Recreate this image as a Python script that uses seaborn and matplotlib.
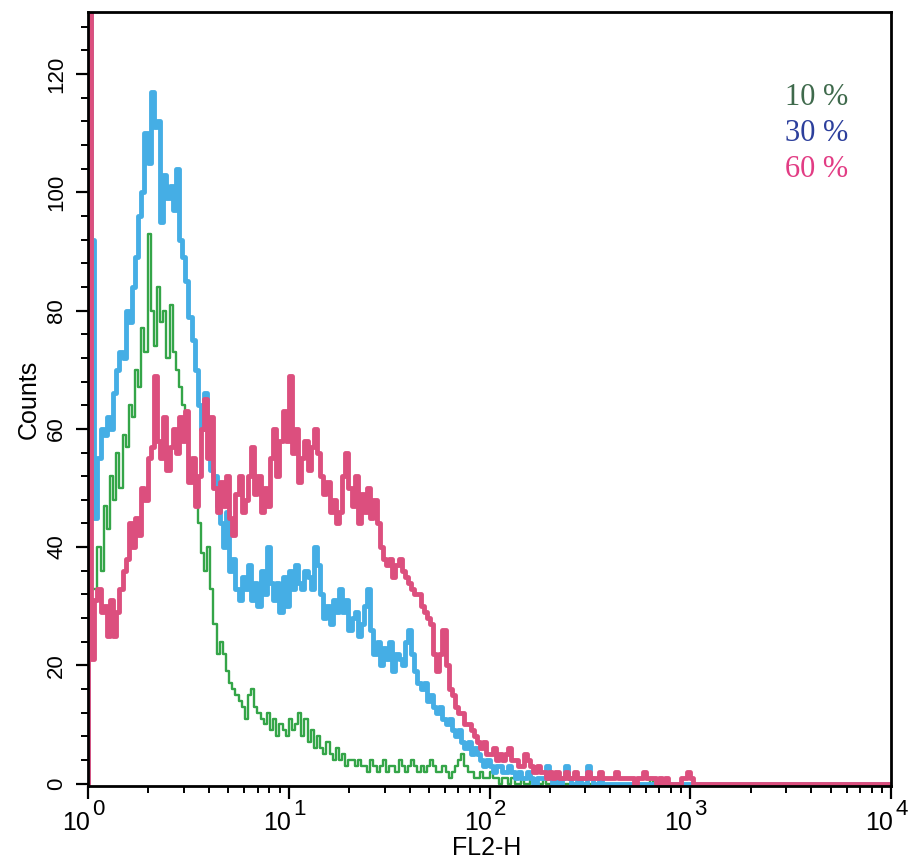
import numpy as np
import pandas as pd
import matplotlib
matplotlib.use("Agg")
import matplotlib.pyplot as plt
import matplotlib.transforms as mtransforms
from matplotlib.ticker import LogLocator, MultipleLocator, NullFormatter
import seaborn as sns

# channel counts (256 log channels across 4 decades, FL2-H)
series_names = ["10 %", "30 %", "60 %"]

counts_10 = [150, 33, 33, 40, 36, 47, 43, 52, 48, 56, 50, 59, 57, 64, 62, 70, 67, 77, 73, 93,
             80, 74, 84, 78, 80, 72, 81, 73, 70, 67, 64, 60, 55, 52, 47, 44, 39, 36, 40, 33,
             27, 22, 24, 22, 19, 17, 16, 15, 14, 13, 11, 15, 16, 13, 12, 11, 10, 12, 9, 11,
             8, 10, 9, 8, 11, 9, 10, 12, 8, 11, 7, 9, 6, 8, 6, 5, 7, 5, 4, 6,
             4, 5, 3, 4, 4, 3, 4, 3, 3, 2, 4, 3, 2, 3, 4, 2, 3, 3, 2, 4,
             3, 2, 3, 4, 3, 2, 3, 2, 3, 4, 3, 2, 2, 3, 2, 1, 2, 3, 4, 5,
             3, 2, 2, 1, 1, 2, 1, 1, 2, 1, 1, 0, 1, 1, 0, 1, 0, 0, 1, 0,
             0, 1, 0, 0, 0, 1, 0, 0, 0, 0, 0, 0, 0, 0, 0, 0, 0, 0, 0, 0,
             0, 0, 0, 0, 0, 0, 0, 0, 0, 0, 0, 0, 0, 0, 0, 0, 0, 0, 0, 1,
             0, 0, 0, 0, 0, 0, 0, 0, 0, 0, 0, 0, 0, 0, 0, 0, 0, 0, 0, 0,
             0, 0, 0, 0, 0, 0, 0, 0, 0, 0, 0, 0, 0, 0, 0, 0, 0, 0, 0, 0,
             0, 0, 0, 0, 0, 0, 0, 0, 0, 0, 0, 0, 0, 0, 0, 0, 0, 0, 0, 0,
             0, 0, 0, 0, 0, 0, 0, 0, 0, 0, 0, 0, 0, 0, 0, 0]

counts_30 = [300, 92, 45, 55, 60, 59, 62, 60, 66, 70, 73, 72, 80, 78, 84, 89, 96, 100, 110, 105,
             117, 111, 112, 95, 103, 99, 101, 97, 104, 92, 89, 85, 79, 75, 70, 64, 60, 66, 60, 53,
             52, 47, 44, 40, 46, 36, 38, 33, 31, 35, 33, 37, 31, 34, 30, 36, 32, 40, 34, 31,
             34, 29, 35, 30, 36, 33, 37, 34, 33, 36, 35, 33, 40, 37, 32, 28, 30, 27, 31, 29,
             33, 29, 31, 26, 28, 29, 25, 27, 30, 33, 26, 22, 24, 20, 23, 21, 24, 19, 22, 21,
             20, 24, 26, 22, 19, 17, 16, 17, 14, 15, 13, 12, 13, 11, 10, 11, 9, 8, 9, 7,
             6, 7, 5, 6, 5, 4, 3, 4, 3, 2, 3, 3, 2, 2, 3, 2, 1, 2, 1, 1,
             2, 1, 0, 1, 1, 1, 3, 1, 0, 1, 0, 1, 3, 1, 0, 0, 1, 0, 0, 3,
             1, 0, 0, 1, 0, 0, 0, 0, 0, 0, 0, 0, 0, 0, 0, 0, 0, 0, 0, 0,
             0, 0, 0, 0, 0, 0, 0, 0, 0, 0, 0, 0, 0, 0, 0, 0, 0, 0, 0, 0,
             0, 0, 0, 0, 0, 0, 0, 0, 0, 0, 0, 0, 0, 0, 0, 0, 0, 0, 0, 0,
             0, 0, 0, 0, 0, 0, 0, 0, 0, 0, 0, 0, 0, 0, 0, 0, 0, 0, 0, 0,
             0, 0, 0, 0, 0, 0, 0, 0, 0, 0, 0, 0, 0, 0, 0, 0]

counts_60 = [400, 21, 31, 33, 29, 30, 25, 31, 25, 29, 33, 36, 38, 44, 40, 45, 42, 50, 48, 55,
             57, 69, 58, 55, 62, 53, 57, 60, 56, 62, 58, 63, 51, 55, 47, 52, 60, 65, 55, 62,
             50, 46, 51, 47, 52, 45, 42, 49, 52, 46, 48, 52, 57, 49, 52, 46, 50, 47, 55, 60,
             52, 58, 63, 58, 69, 56, 60, 51, 55, 58, 53, 57, 60, 56, 52, 49, 51, 46, 48, 44,
             46, 52, 56, 50, 47, 52, 44, 49, 46, 50, 45, 48, 44, 40, 38, 37, 38, 35, 37, 38,
             36, 35, 34, 33, 32, 32, 30, 29, 28, 27, 22, 19, 22, 26, 20, 16, 15, 13, 12, 12,
             10, 10, 9, 8, 7, 6, 7, 5, 5, 6, 4, 5, 4, 5, 6, 4, 4, 3, 3, 5,
             4, 3, 2, 3, 2, 2, 1, 2, 1, 2, 1, 1, 2, 1, 1, 2, 1, 1, 1, 2,
             1, 1, 1, 2, 1, 1, 1, 1, 2, 1, 1, 1, 1, 1, 0, 1, 1, 2, 1, 1,
             1, 0, 1, 0, 1, 0, 0, 0, 0, 1, 1, 2, 1, 0, 0, 0, 0, 0, 0, 0,
             0, 0, 0, 0, 0, 0, 0, 0, 0, 0, 0, 0, 0, 0, 0, 0, 0, 0, 0, 0,
             0, 0, 0, 0, 0, 0, 0, 0, 0, 0, 0, 0, 0, 0, 0, 0, 0, 0, 0, 0,
             0, 0, 0, 0, 0, 0, 0, 0, 0, 0, 0, 0, 0, 0, 0, 0]

line_colors = {"10 %": "#34a548", "30 %": "#45aee5", "60 %": "#dc4f7e"}
text_colors = {"10 %": "#3f6a4c", "30 %": "#2c3f9c", "60 %": "#e23c84"}
line_widths = {"10 %": 1.7, "30 %": 3.5, "60 %": 3.5}

y_ticks = [0, 20, 40, 60, 80, 100, 120]
x_ticks = [1, 10, 100, 1000, 10000]
x_tick_exponents = ["0", "1", "2", "3", "4"]

# ---------------------------------------------------------------------------
sns.set_theme(style="ticks")
plt.rcParams["font.family"] = ["Liberation Sans", "DejaVu Sans"]
plt.rcParams["text.color"] = "black"
plt.rcParams["axes.labelcolor"] = "black"
plt.rcParams["xtick.color"] = "black"
plt.rcParams["ytick.color"] = "black"

n_ch = len(counts_10)
edges = 10 ** (np.arange(n_ch + 1) * 4.0 / n_ch)   # channel edges on the log axis

frames = []
for name, cnt in zip(series_names, [counts_10, counts_30, counts_60]):
    c = np.asarray(cnt, dtype=float)
    xs = np.concatenate([[edges[0]], edges])
    ys = np.concatenate([[0.0], c, [c[-1]]])
    frames.append(pd.DataFrame({"FL2-H": xs, "Counts": ys, "series": name}))
df = pd.concat(frames, ignore_index=True)

fig = plt.figure(figsize=(9.14, 8.66), dpi=100)
ax = fig.add_axes([0.0963, 0.0924, 0.8786, 0.8937])

for name in ["10 %", "30 %", "60 %"]:
    sub = df[df["series"] == name]
    sns.lineplot(data=sub, x="FL2-H", y="Counts", ax=ax, sort=False,
                 estimator=None, drawstyle="steps-post",
                 color=line_colors[name], linewidth=line_widths[name],
                 legend=False)

ax.set_xscale("log")
ax.set_xlim(1, 1e4)
ax.set_ylim(-0.4, 130.5)
ax.set_xticks(x_ticks)
ax.xaxis.set_minor_locator(LogLocator(base=10, subs=np.arange(2, 10)))
ax.xaxis.set_major_formatter(NullFormatter())
ax.xaxis.set_minor_formatter(NullFormatter())
ax.set_yticks(y_ticks)
ax.yaxis.set_minor_locator(MultipleLocator(4))

for sp in ax.spines.values():
    sp.set_visible(True)
    sp.set_color("black")
    sp.set_linewidth(2.0)

ax.tick_params(axis="both", which="major", direction="out", length=9,
               width=1.6, color="black")
ax.tick_params(axis="both", which="minor", direction="out", length=5,
               width=1.4, color="black")
ax.tick_params(axis="y", which="major", labelsize=16, pad=6, labelcolor="black")
for lbl in ax.get_yticklabels():
    lbl.set_rotation(90)
    lbl.set_va("center")

# x tick labels: "10" with a large raised exponent
xform = ax.get_xaxis_transform()
for xv, ex in zip(x_ticks, x_tick_exponents):
    t_base = mtransforms.offset_copy(xform, fig=fig, x=2, y=0, units="dots")
    ax.text(xv, -0.057, "10", transform=t_base, ha="right", va="baseline",
            fontsize=18, color="black", clip_on=False)
    t_exp = mtransforms.offset_copy(xform, fig=fig, x=4, y=0, units="dots")
    ax.text(xv, -0.037, ex, transform=t_exp, ha="left", va="baseline",
            fontsize=16, color="black", clip_on=False)

ax.set_xlabel("FL2-H", fontsize=18)
ax.xaxis.set_label_coords(0.497, -0.064)
ax.set_ylabel("Counts", fontsize=18, labelpad=4)
ax.grid(False)

label_y = {"10 %": 0.890, "30 %": 0.843, "60 %": 0.796}
for name in series_names:
    ax.text(0.868, label_y[name], name, transform=ax.transAxes,
            color=text_colors[name], fontsize=22, ha="left", va="center",
            family=["Liberation Serif", "DejaVu Serif"])

fig.savefig("out.png", dpi=100)
